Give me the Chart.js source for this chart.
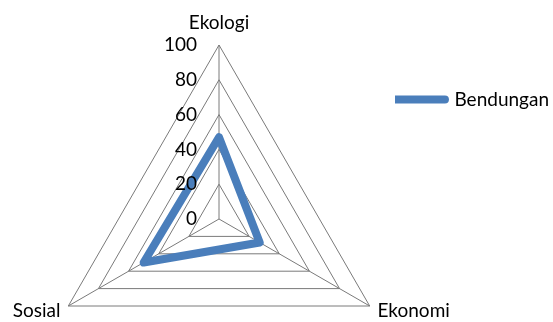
<!DOCTYPE html>
<html>
<head>
<meta charset="utf-8">
<script src="https://cdn.jsdelivr.net/npm/chart.js@4.4.1/dist/chart.umd.min.js"></script>
<style>
  html, body { margin: 0; padding: 0; background: #ffffff; }
  #wrap { width: 553px; height: 322px; position: relative; }
</style>
</head>
<body>
<div id="wrap"><canvas id="chart"></canvas></div>
<script>
// Axes of the radar, clockwise from the top
const categories = ['Ekologi', 'Ekonomi', 'Sosial'];
// Single series
const seriesName = 'Bendungan';
const bendunganValues = [47, 27, 50];
// Radial tick labels
const tickValues = [0, 20, 40, 60, 80, 100];

const FONT_FAMILY = 'Lato, "Open Sans", "Liberation Sans", sans-serif';
const FONT_SIZE = 19;
const GRID_COLOR = '#7a7a7a';
const LINE_COLOR = '#4a7ebb';

// Plot geometry of the radial scale in canvas pixels
const RADAR_CENTER_X = 219;
const RADAR_CENTER_Y = 219;
const RADAR_RADIUS = 174;

// Tick labels: right-aligned, just left of the vertical spoke, including 0
const tickLabelPlugin = {
  id: 'sideTickLabels',
  afterDraw(chart) {
    const scale = chart.scales.r;
    const ctx = chart.ctx;
    ctx.save();
    ctx.font = FONT_SIZE + 'px ' + FONT_FAMILY;
    ctx.fillStyle = '#000000';
    ctx.textAlign = 'right';
    ctx.textBaseline = 'middle';
    scale.ticks.forEach(tick => {
      const d = scale.getDistanceFromCenterForValue(tick.value);
      ctx.fillText(String(tick.value), scale.xCenter - 22, scale.yCenter - d);
    });
    ctx.restore();
  }
};

new Chart(document.getElementById('chart'), {
  type: 'radar',
  data: {
    labels: categories,
    datasets: [{
      label: seriesName,
      data: bendunganValues,
      borderColor: LINE_COLOR,
      backgroundColor: LINE_COLOR,
      borderWidth: 8,
      borderJoinStyle: 'round',
      borderCapStyle: 'round',
      fill: false,
      pointRadius: 0,
      pointHoverRadius: 0,
      clip: false
    }]
  },
  options: {
    responsive: true,
    maintainAspectRatio: false,
    animation: false,
    devicePixelRatio: 1,
    layout: { padding: { top: 90, right: -6, left: 0, bottom: 0 } },
    plugins: {
      tooltip: { enabled: false },
      legend: {
        position: 'right',
        align: 'start',
        labels: {
          usePointStyle: true,
          pointStyle: 'line',
          pointStyleWidth: 50,
          padding: 0,
          color: '#000000',
          font: { family: FONT_FAMILY, size: FONT_SIZE },
          // legend line with rounded ends, like the series line
          generateLabels(chart) {
            return Chart.defaults.plugins.legend.labels.generateLabels(chart)
              .map(item => Object.assign(item, { lineCap: 'round' }));
          }
        }
      }
    },
    scales: {
      r: {
        min: tickValues[0],
        max: tickValues[tickValues.length - 1],
        startAngle: 0,
        ticks: { display: false, stepSize: tickValues[1] - tickValues[0] },
        grid: { color: GRID_COLOR, lineWidth: 1 },
        angleLines: { color: GRID_COLOR, lineWidth: 1 },
        pointLabels: {
          color: '#000000',
          padding: ctx => (ctx.index === 0 ? 22 : 9),
          font: { family: FONT_FAMILY, size: FONT_SIZE, lineHeight: 0.01 }
        },
        // fix the plot's centre and radius instead of auto-fitting around the labels
        beforeFit(scale) {
          scale.setCenterPoint = function () {
            this.xCenter = RADAR_CENTER_X;
            this.yCenter = RADAR_CENTER_Y;
            this.drawingArea = RADAR_RADIUS;
          };
        }
      }
    }
  },
  plugins: [tickLabelPlugin]
});
</script>
</body>
</html>
